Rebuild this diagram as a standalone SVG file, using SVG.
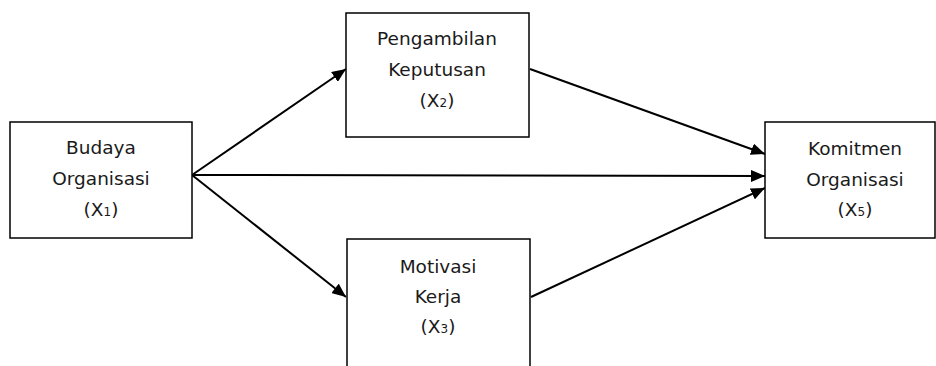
<svg xmlns="http://www.w3.org/2000/svg" width="936" height="366" viewBox="0 0 936 366">
<style>
.box{fill:#fff;stroke:#000;stroke-width:1.5}
.t{font-family:"DejaVu Sans","Open Sans",sans-serif;font-size:18.5px;fill:#1a1a1a;text-anchor:middle}
.s{font-size:12px}
.c{stroke:#000;stroke-width:2;fill:none;marker-end:url(#ah)}
</style>
<defs>
<marker id="ah" viewBox="0 0 14 12" refX="14" refY="6" markerWidth="14" markerHeight="12" markerUnits="userSpaceOnUse" orient="auto"><path d="M0,0 L14,6 L0,12 z" fill="#000"/></marker>
</defs>
<g id="connectors">
<line class="c" x1="192" y1="175" x2="346" y2="69"/>
<line class="c" x1="192" y1="175" x2="346" y2="297"/>
<line class="c" x1="192" y1="175" x2="765" y2="176"/>
<line class="c" x1="530" y1="69" x2="765" y2="154"/>
<line class="c" x1="531" y1="297" x2="765" y2="188"/>
</g>
<g id="budaya">
<rect class="box" x="10" y="122" width="182" height="116"/>
<text class="t" x="101" y="154">Budaya</text>
<text class="t" x="101" y="185">Organisasi</text>
<text class="t" x="101" y="216">(X<tspan class="s">1</tspan>)</text>
</g>
<g id="pengambilan">
<rect class="box" x="346" y="13" width="183" height="124"/>
<text class="t" x="437" y="45">Pengambilan</text>
<text class="t" x="437" y="76">Keputusan</text>
<text class="t" x="437" y="107">(X<tspan class="s">2</tspan>)</text>
</g>
<g id="motivasi">
<rect class="box" x="347" y="239" width="183" height="140"/>
<text class="t" x="438" y="273">Motivasi</text>
<text class="t" x="438" y="303">Kerja</text>
<text class="t" x="438" y="333">(X<tspan class="s">3</tspan>)</text>
</g>
<g id="komitmen">
<rect class="box" x="765" y="122" width="170" height="116"/>
<text class="t" x="855" y="155">Komitmen</text>
<text class="t" x="855" y="186">Organisasi</text>
<text class="t" x="855" y="216">(X<tspan class="s">5</tspan>)</text>
</g>
</svg>
